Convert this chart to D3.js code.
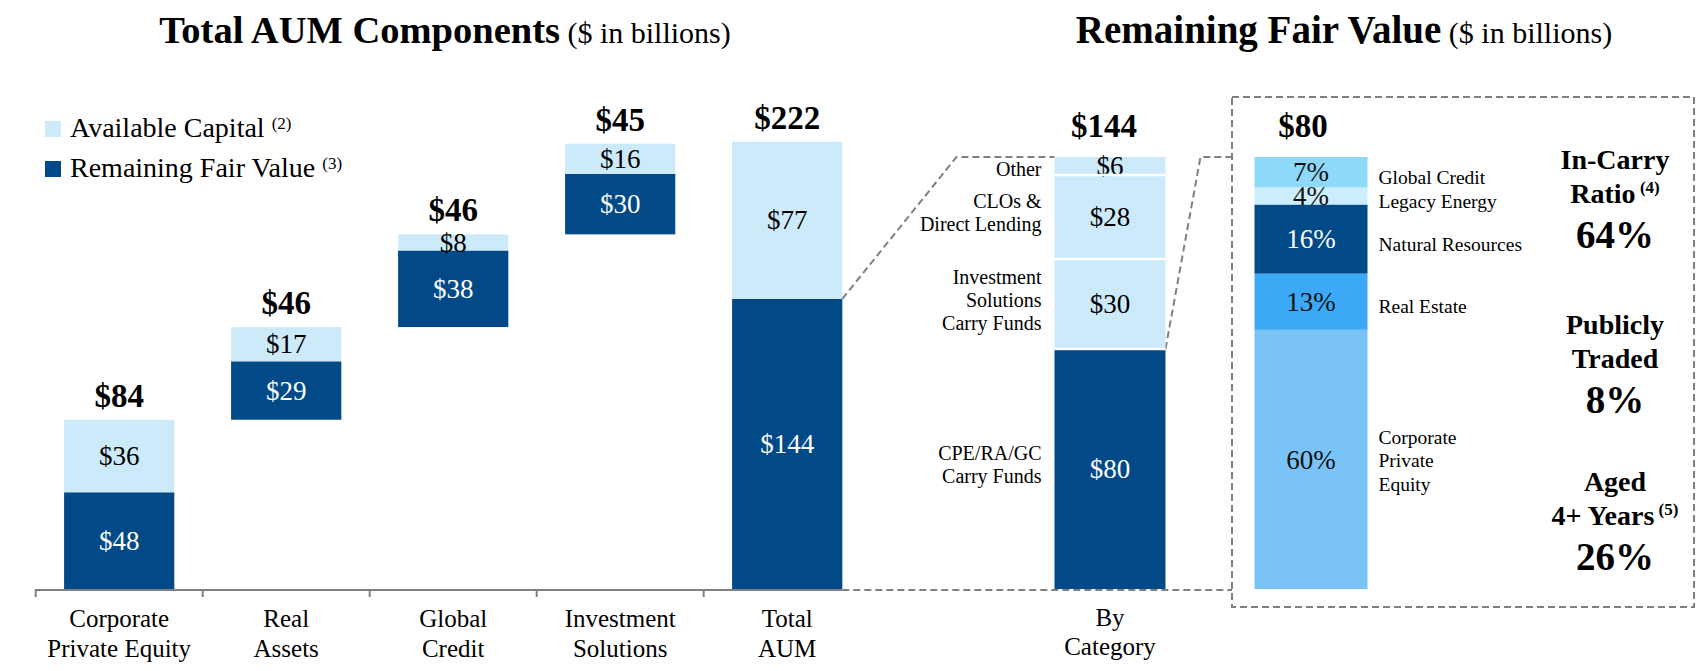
<!DOCTYPE html>
<html><head><meta charset="utf-8">
<script src="https://cdn.jsdelivr.net/npm/d3@7"></script>
<style>
html,body{margin:0;padding:0;background:#fff;}
svg{display:block;font-family:"Liberation Serif","Times New Roman",serif;}
</style></head><body>
<svg id="chart" width="1703" height="671"></svg>
<script>
// ---------- DATA ----------
const categories = ["Corporate\nPrivate Equity", "Real\nAssets", "Global\nCredit", "Investment\nSolutions", "Total\nAUM"];
const remainingFairValue = [48, 29, 38, 30, 144];
const availableCapital = [36, 17, 8, 16, 77];
const totalAUM = [84, 46, 46, 45, 222];
const isTotalBar = [false, false, false, false, true];

const rfvCategoryLabel = "By\nCategory";
const rfvCategories = ["CPE/RA/GC\nCarry Funds", "Investment\nSolutions\nCarry Funds", "CLOs &\nDirect Lending", "Other"];
const rfvValues = [80, 30, 28, 6];
const rfvTotal = 144;

const sectorNames = ["Corporate\nPrivate\nEquity", "Real Estate", "Natural Resources", "Legacy Energy", "Global Credit"];
const sectorPct = [60, 13, 16, 4, 7];
const sectorTotal = 80;

const statLabels = [["In-Carry", "Ratio"], ["Publicly", "Traded"], ["Aged", "4+ Years"]];
const statNotes = ["(4)", "", "(5)"];
const statValues = ["64%", "8%", "26%"];

const legendLabels = ["Available Capital", "Remaining Fair Value"];
const legendNotes = ["(2)", "(3)"];
const titles = ["Total AUM Components", "Remaining Fair Value"];
const titleUnit = "($ in billions)";

// ---------- STYLE ----------
const NAVY = "#014a87", LIGHT = "#cdeafb";
const sectorColors = ["#7ac3f7", "#3ba9f5", "#014a87", "#cdeefc", "#8ed8fa"];
const sectorText = ["#111", "#111", "#fff", "#111", "#111"];
const GRAY = "#808080";
const DASH = "7,4";

const svg = d3.select("#chart");
const baseY = 589;

function lines(g, text, x, cy, lh, size, anchor, weight, fill) {
  const ls = text.split("\n");
  const t = g.append("text").attr("text-anchor", anchor).attr("font-size", size)
    .attr("font-weight", weight || "normal").attr("fill", fill || "#000");
  ls.forEach((l, i) => {
    t.append("tspan").attr("x", x).attr("y", cy + (i - (ls.length - 1) / 2) * lh + 0.34 * size).text(l);
  });
  return t;
}

// ---------- TITLES ----------
[[445, 38.5], [1344, 39]].forEach((p, i) => {
  const t = svg.append("text").attr("x", p[0]).attr("y", 43).attr("text-anchor", "middle");
  t.append("tspan").attr("font-weight", "bold").attr("font-size", p[1]).text(titles[i]);
  t.append("tspan").attr("font-size", 30).text(" " + titleUnit);
});

// ---------- LEFT: WATERFALL ----------
const xL = d3.scaleBand().domain(categories).range([35.7, 870.7]).paddingInner(0.34).paddingOuter(0.17);
const yL = d3.scaleLinear().domain([0, 222]).range([baseY, baseY - 222 * 2.015]);

const bases = [];
let run = 0;
categories.forEach((c, i) => {
  if (isTotalBar[i]) bases.push(0); else { bases.push(run); run += totalAUM[i]; }
});

const gL = svg.append("g");
categories.forEach((c, i) => {
  const x0 = xL(c), w = xL.bandwidth(), b = bases[i];
  const rfvTop = b + remainingFairValue[i];
  const top = isTotalBar[i] ? totalAUM[i] : b + totalAUM[i];
  gL.append("rect").attr("x", x0).attr("width", w).attr("y", yL(rfvTop)).attr("height", yL(b) - yL(rfvTop)).attr("fill", NAVY);
  gL.append("rect").attr("x", x0).attr("width", w).attr("y", yL(top)).attr("height", yL(rfvTop) - yL(top)).attr("fill", LIGHT);
  lines(gL, "$" + remainingFairValue[i], x0 + w / 2, (yL(b) + yL(rfvTop)) / 2, 0, 27, "middle", "normal", "#fff");
  lines(gL, "$" + availableCapital[i], x0 + w / 2, (yL(rfvTop) + yL(top)) / 2, 0, 27, "middle", "normal", "#000");
  gL.append("text").attr("x", x0 + w / 2).attr("y", yL(top) - 13).attr("text-anchor", "middle")
    .attr("font-size", 33).attr("font-weight", "bold").text("$" + totalAUM[i]);
  const ls = c.split("\n");
  const t = gL.append("text").attr("text-anchor", "middle").attr("font-size", 25);
  ls.forEach((l, j) => t.append("tspan").attr("x", x0 + w / 2).attr("y", 627 + j * 30).text(l));
});

// axis
const lastBarRight = xL(categories[categories.length - 1]) + xL.bandwidth();
gL.append("line").attr("x1", xL.range()[0]).attr("x2", lastBarRight).attr("y1", baseY + 1).attr("y2", baseY + 1)
  .attr("stroke", GRAY).attr("stroke-width", 2);
categories.forEach((c, i) => {
  const tx = xL.range()[0] + i * xL.step();
  gL.append("line").attr("x1", tx).attr("x2", tx).attr("y1", baseY).attr("y2", baseY + 8).attr("stroke", GRAY).attr("stroke-width", 2);
});

// legend
[LIGHT, NAVY].forEach((col, i) => {
  const y = 121 + i * 40;
  svg.append("rect").attr("x", 45).attr("y", y).attr("width", 16).attr("height", 16).attr("fill", col);
  const t = svg.append("text").attr("x", 70).attr("y", y + 16).attr("font-size", 28);
  t.append("tspan").text(legendLabels[i] + " ");
  t.append("tspan").attr("font-size", 17).attr("dy", -8).text(legendNotes[i]);
});

// ---------- RIGHT ----------
const xR = d3.scaleBand().domain(["cat", "sector"]).range([1010, 1410]).paddingInner(0.445).paddingOuter(0.2225);
const yR = d3.scaleLinear().domain([0, rfvTotal]).range([baseY, 157]);
const yP = d3.scaleLinear().domain([0, 100]).range([baseY, 157]);

// dashed connectors & box
const gD = svg.append("g").attr("fill", "none").attr("stroke", GRAY).attr("stroke-width", 2).attr("stroke-dasharray", DASH);
const catX = xR("cat"), catW = xR.bandwidth();
const boxL = 1232, boxR = 1694, boxT = 97, boxB = 607;
gD.append("path").attr("d", d3.line()([[lastBarRight, yL(remainingFairValue[4])], [catX - 98, yR(rfvTotal)], [catX, yR(rfvTotal)]]));
gD.append("path").attr("d", d3.line()([[lastBarRight, baseY + 1], [boxL, baseY + 1]]));
gD.append("path").attr("d", d3.line()([[catX + catW, yR(rfvValues[0])], [catX + catW + 35, yR(rfvTotal)], [boxL, yR(rfvTotal)]]));
gD.append("rect").attr("x", boxL).attr("y", boxT).attr("width", boxR - boxL).attr("height", boxB - boxT);

// by category stacked bar
const gR = svg.append("g");
let cum = 0;
rfvValues.forEach((v, i) => {
  const y0 = yR(cum), y1 = yR(cum + v);
  gR.append("rect").attr("x", catX).attr("width", catW).attr("y", y1).attr("height", y0 - y1).attr("fill", i === 0 ? NAVY : LIGHT);
  lines(gR, "$" + v, catX + catW / 2, (y0 + y1) / 2, 0, 27, "middle", "normal", i === 0 ? "#fff" : "#000");
  const nl = rfvCategories[i].split("\n").length;
  lines(gR, rfvCategories[i], catX - 13, (y0 + y1) / 2 + (nl === 1 ? 3 : -4), 23, 20, "end", "normal", "#000");
  cum += v;
});
cum = 0;
rfvValues.slice(0, -1).forEach((v) => {
  cum += v;
  gR.append("line").attr("x1", catX).attr("x2", catX + catW).attr("y1", yR(cum)).attr("y2", yR(cum)).attr("stroke", "#fff").attr("stroke-width", 2.5);
});
gR.append("text").attr("x", catX + catW / 2 - 6).attr("y", 137).attr("text-anchor", "middle")
  .attr("font-size", 33).attr("font-weight", "bold").text("$" + rfvTotal);
{
  const ls = rfvCategoryLabel.split("\n");
  const t = gR.append("text").attr("text-anchor", "middle").attr("font-size", 25);
  ls.forEach((l, j) => t.append("tspan").attr("x", catX + catW / 2).attr("y", 626 + j * 29).text(l));
}

// sector percent bar
const sX = xR("sector"), sW = xR.bandwidth() + 2;
cum = 0;
sectorPct.forEach((p, i) => {
  const y0 = yP(cum), y1 = yP(cum + p);
  gR.append("rect").attr("x", sX).attr("width", sW).attr("y", y1).attr("height", y0 - y1).attr("fill", sectorColors[i]);
  lines(gR, p + "%", sX + sW / 2, (y0 + y1) / 2, 0, 27, "middle", "normal", sectorText[i]);
  const nl = sectorNames[i].split("\n").length;
  lines(gR, sectorNames[i], sX + sW + 11, (y0 + y1) / 2 + (nl === 1 ? 5 : 1), 23.5, 19.5, "start", "normal", "#000");
  cum += p;
});
gR.append("text").attr("x", sX + sW / 2 - 8).attr("y", 137).attr("text-anchor", "middle")
  .attr("font-size", 33).attr("font-weight", "bold").text("$" + sectorTotal);

// stats
const statCX = 1615;
const statTops = [169, 334, 491];
statLabels.forEach((lab, i) => {
  lab.forEach((l, j) => {
    const t = gR.append("text").attr("x", statCX).attr("y", statTops[i] + j * 33.5).attr("text-anchor", "middle")
      .attr("font-size", 28).attr("font-weight", "bold");
    t.append("tspan").text(l);
    if (j === lab.length - 1 && statNotes[i]) {
      t.append("tspan").attr("font-size", 17).attr("dy", -10).text(" " + statNotes[i]);
    }
  });
  gR.append("text").attr("x", statCX).attr("y", statTops[i] + 78.5).attr("text-anchor", "middle")
    .attr("font-size", 39).attr("font-weight", "bold").text(statValues[i]);
});
</script>
</body></html>
